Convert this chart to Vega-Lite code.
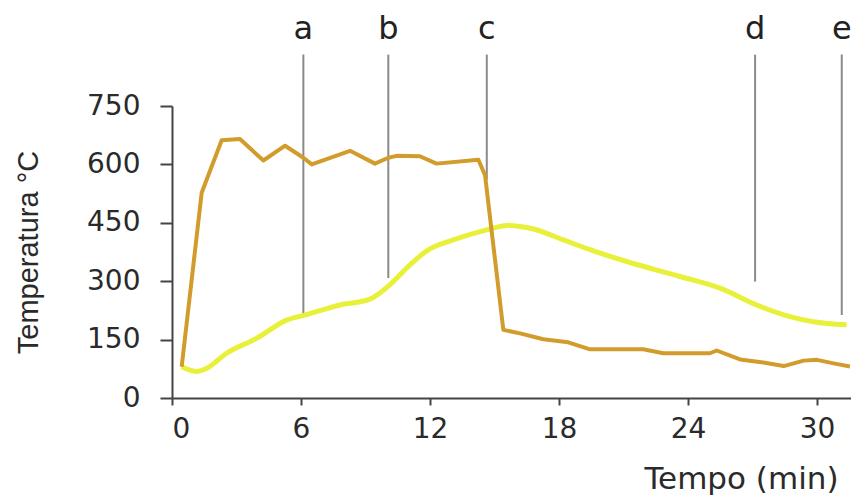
{
  "$schema": "https://vega.github.io/schema/vega-lite/v6.json",
  "width": 679,
  "height": 292,
  "autosize": {"type": "none"},
  "padding": {"left": 172, "top": 106, "right": 0, "bottom": 97},
  "background": "white",
  "config": {"view": {"stroke": null}, "font": "DejaVu Sans"},
  "datasets": {
    "curves": [
      {"serie": "forno", "t": 0.45, "temp": 80},
      {"serie": "forno", "t": 1.38, "temp": 527},
      {"serie": "forno", "t": 2.31, "temp": 662},
      {"serie": "forno", "t": 3.16, "temp": 665},
      {"serie": "forno", "t": 4.25, "temp": 610},
      {"serie": "forno", "t": 5.26, "temp": 648},
      {"serie": "forno", "t": 6.11, "temp": 617},
      {"serie": "forno", "t": 6.5, "temp": 600},
      {"serie": "forno", "t": 8.28, "temp": 635},
      {"serie": "forno", "t": 9.44, "temp": 602},
      {"serie": "forno", "t": 10.06, "temp": 617},
      {"serie": "forno", "t": 10.45, "temp": 622},
      {"serie": "forno", "t": 11.53, "temp": 621},
      {"serie": "forno", "t": 12.3, "temp": 602},
      {"serie": "forno", "t": 14.25, "temp": 612},
      {"serie": "forno", "t": 14.56, "temp": 572},
      {"serie": "forno", "t": 15.41, "temp": 175},
      {"serie": "forno", "t": 16.19, "temp": 166},
      {"serie": "forno", "t": 17.27, "temp": 151},
      {"serie": "forno", "t": 18.43, "temp": 143},
      {"serie": "forno", "t": 19.44, "temp": 125},
      {"serie": "forno", "t": 21.92, "temp": 125},
      {"serie": "forno", "t": 22.85, "temp": 115},
      {"serie": "forno", "t": 25.02, "temp": 115},
      {"serie": "forno", "t": 25.33, "temp": 122},
      {"serie": "forno", "t": 26.42, "temp": 99},
      {"serie": "forno", "t": 27.5, "temp": 91},
      {"serie": "forno", "t": 28.45, "temp": 82},
      {"serie": "forno", "t": 29.38, "temp": 96},
      {"serie": "forno", "t": 30.0, "temp": 98},
      {"serie": "forno", "t": 30.77, "temp": 89},
      {"serie": "forno", "t": 31.53, "temp": 81},
      {"serie": "amostra", "t": 0.45, "temp": 80},
      {"serie": "amostra", "t": 1.15, "temp": 68},
      {"serie": "amostra", "t": 1.61, "temp": 76},
      {"serie": "amostra", "t": 2.54, "temp": 115},
      {"serie": "amostra", "t": 3.93, "temp": 153},
      {"serie": "amostra", "t": 5.33, "temp": 200},
      {"serie": "amostra", "t": 6.26, "temp": 214},
      {"serie": "amostra", "t": 7.81, "temp": 239},
      {"serie": "amostra", "t": 9.21, "temp": 254},
      {"serie": "amostra", "t": 10.14, "temp": 291},
      {"serie": "amostra", "t": 10.92, "temp": 334},
      {"serie": "amostra", "t": 11.85, "temp": 378},
      {"serie": "amostra", "t": 13.08, "temp": 406},
      {"serie": "amostra", "t": 14.64, "temp": 432},
      {"serie": "amostra", "t": 15.6, "temp": 443},
      {"serie": "amostra", "t": 16.81, "temp": 434},
      {"serie": "amostra", "t": 18.2, "temp": 406},
      {"serie": "amostra", "t": 19.44, "temp": 381},
      {"serie": "amostra", "t": 21.3, "temp": 348},
      {"serie": "amostra", "t": 23.63, "temp": 312},
      {"serie": "amostra", "t": 25.49, "temp": 282},
      {"serie": "amostra", "t": 27.19, "temp": 239},
      {"serie": "amostra", "t": 28.74, "temp": 209},
      {"serie": "amostra", "t": 29.83, "temp": 196},
      {"serie": "amostra", "t": 31.38, "temp": 188}
    ],
    "marks": [
      {"label": "a", "t": 6.11, "bottom": 209, "top": 882, "labelY": 922},
      {"label": "b", "t": 10.06, "bottom": 308, "top": 882, "labelY": 922},
      {"label": "c", "t": 14.64, "bottom": 561, "top": 882, "labelY": 922},
      {"label": "d", "t": 27.12, "bottom": 299, "top": 882, "labelY": 922},
      {"label": "e", "t": 31.15, "bottom": 213, "top": 882, "labelY": 922}
    ]
  },
  "layer": [
    {
      "data": {"name": "marks"},
      "mark": {"type": "rule", "color": "#8a8a8a", "strokeWidth": 2},
      "encoding": {
        "x": {
          "field": "t", "type": "quantitative",
          "scale": {"domain": [0, 31.58], "nice": false, "zero": false},
          "axis": {
            "values": [0, 6, 12, 18, 24, 30],
            "grid": false,
            "domainColor": "#444444", "domainWidth": 2,
            "tickColor": "#444444", "tickWidth": 2, "tickSize": 7,
            "labelFontSize": 28, "labelColor": "#2a2a2a", "labelPadding": 10,
            "labelFont": "DejaVu Sans",
            "title": "Tempo (min)",
            "titleFont": "DejaVu Sans",
            "titleFontSize": 31, "titleFontWeight": "normal", "titleColor": "#2a2a2a",
            "titleAlign": "right", "titleAnchor": "end",
            "titleX": 666, "titleY": 90, "titleBaseline": "alphabetic"
          }
        },
        "y": {
          "field": "bottom", "type": "quantitative",
          "scale": {"domain": [0, 750], "nice": false},
          "axis": {
            "values": [0, 150, 300, 450, 600, 750],
            "grid": false,
            "domainColor": "#444444", "domainWidth": 2,
            "tickColor": "#444444", "tickWidth": 2, "tickSize": 12,
            "labelFontSize": 28, "labelColor": "#2a2a2a", "labelPadding": 20,
            "labelFont": "DejaVu Sans",
            "title": "Temperatura °C",
            "titleFont": "Liberation Sans",
            "titleFontSize": 29, "titleFontWeight": "normal", "titleColor": "#2a2a2a",
            "titleX": -144, "titleBaseline": "middle"
          }
        },
        "y2": {"field": "top"}
      }
    },
    {
      "data": {"name": "marks"},
      "mark": {"type": "text", "fontSize": 32, "color": "#222222", "baseline": "alphabetic", "align": "center", "font": "DejaVu Sans"},
      "encoding": {
        "x": {"field": "t", "type": "quantitative"},
        "y": {"field": "labelY", "type": "quantitative"},
        "text": {"field": "label"}
      }
    },
    {
      "data": {"name": "curves"},
      "transform": [{"filter": "datum.serie === 'amostra'"}],
      "mark": {"type": "line", "color": "#e9f03a", "strokeWidth": 5, "interpolate": "monotone", "strokeJoin": "round"},
      "encoding": {
        "x": {"field": "t", "type": "quantitative"},
        "y": {"field": "temp", "type": "quantitative"}
      }
    },
    {
      "data": {"name": "curves"},
      "transform": [{"filter": "datum.serie === 'forno'"}],
      "mark": {"type": "line", "color": "#d29c2c", "strokeWidth": 4, "strokeJoin": "round"},
      "encoding": {
        "x": {"field": "t", "type": "quantitative"},
        "y": {"field": "temp", "type": "quantitative"}
      }
    }
  ]
}
